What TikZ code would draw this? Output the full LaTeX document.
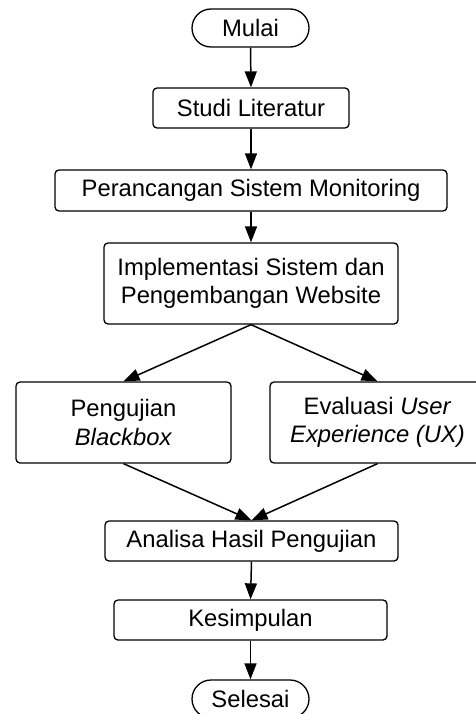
\documentclass[tikz,border=0pt]{standalone}
\usepackage{fontspec}
\setmainfont{Liberation Sans}
\usetikzlibrary{arrows.meta}
\begin{document}
\begin{tikzpicture}[x=1pt,y=-1pt,
  box/.style={draw, line width=1.3pt, rounded corners=4pt, inner sep=0pt, align=center, font=\fontsize{23.8}{28.5}\selectfont},
  term/.style={draw, line width=1.3pt, rounded corners=19pt, inner sep=0pt, minimum width=117pt, minimum height=38pt, font=\fontsize{23.8}{28.5}\selectfont},
  flow/.style={line width=1.5pt, -{Triangle[length=16pt,width=12pt]}}]
\useasboundingbox (0,0) rectangle (476,714);
\clip (0,0) rectangle (476,714);
\node[term] (mulai) at (250.5,28) {Mulai};
\node[box, minimum width=196pt, minimum height=40pt] (studi) at (251,108) {Studi Literatur};
\node[box, minimum width=392pt, minimum height=41pt] (peranc) at (251,190.5) {Perancangan Sistem Monitoring};
\node[box, minimum width=294pt, minimum height=81pt] (impl) at (251,283.5) {Implementasi Sistem dan\\Pengembangan Website};
\node[box, minimum width=215pt, minimum height=81pt] (peng) at (123.5,422.5) {Pengujian\\\textit{Blackbox}};
\node[box, minimum width=215pt, minimum height=81pt] (eval) at (377.5,422.5) {Evaluasi \textit{User}\\\textit{Experience (UX)}};
\node[box, minimum width=293pt, minimum height=40pt] (anal) at (251.5,541) {Analisa Hasil Pengujian};
\node[box, minimum width=273pt, minimum height=40pt] (kesim) at (250.5,620) {Kesimpulan};
\node[term] (selesai) at (250.5,699) {Selesai};
\draw[flow] (mulai.south) -- (studi.north);
\draw[flow] (studi.south) -- (peranc.north);
\draw[flow] (peranc.south) -- (impl.north);
\draw[flow] (impl.south) -- (peng.north);
\draw[flow] (impl.south) -- (eval.north);
\draw[flow] (peng.south) -- (anal.north);
\draw[flow] (eval.south) -- (anal.north);
\draw[flow] (anal.south) -- (kesim.north);
\draw[flow] (kesim.south) -- (selesai.north);
\end{tikzpicture}
\end{document}
